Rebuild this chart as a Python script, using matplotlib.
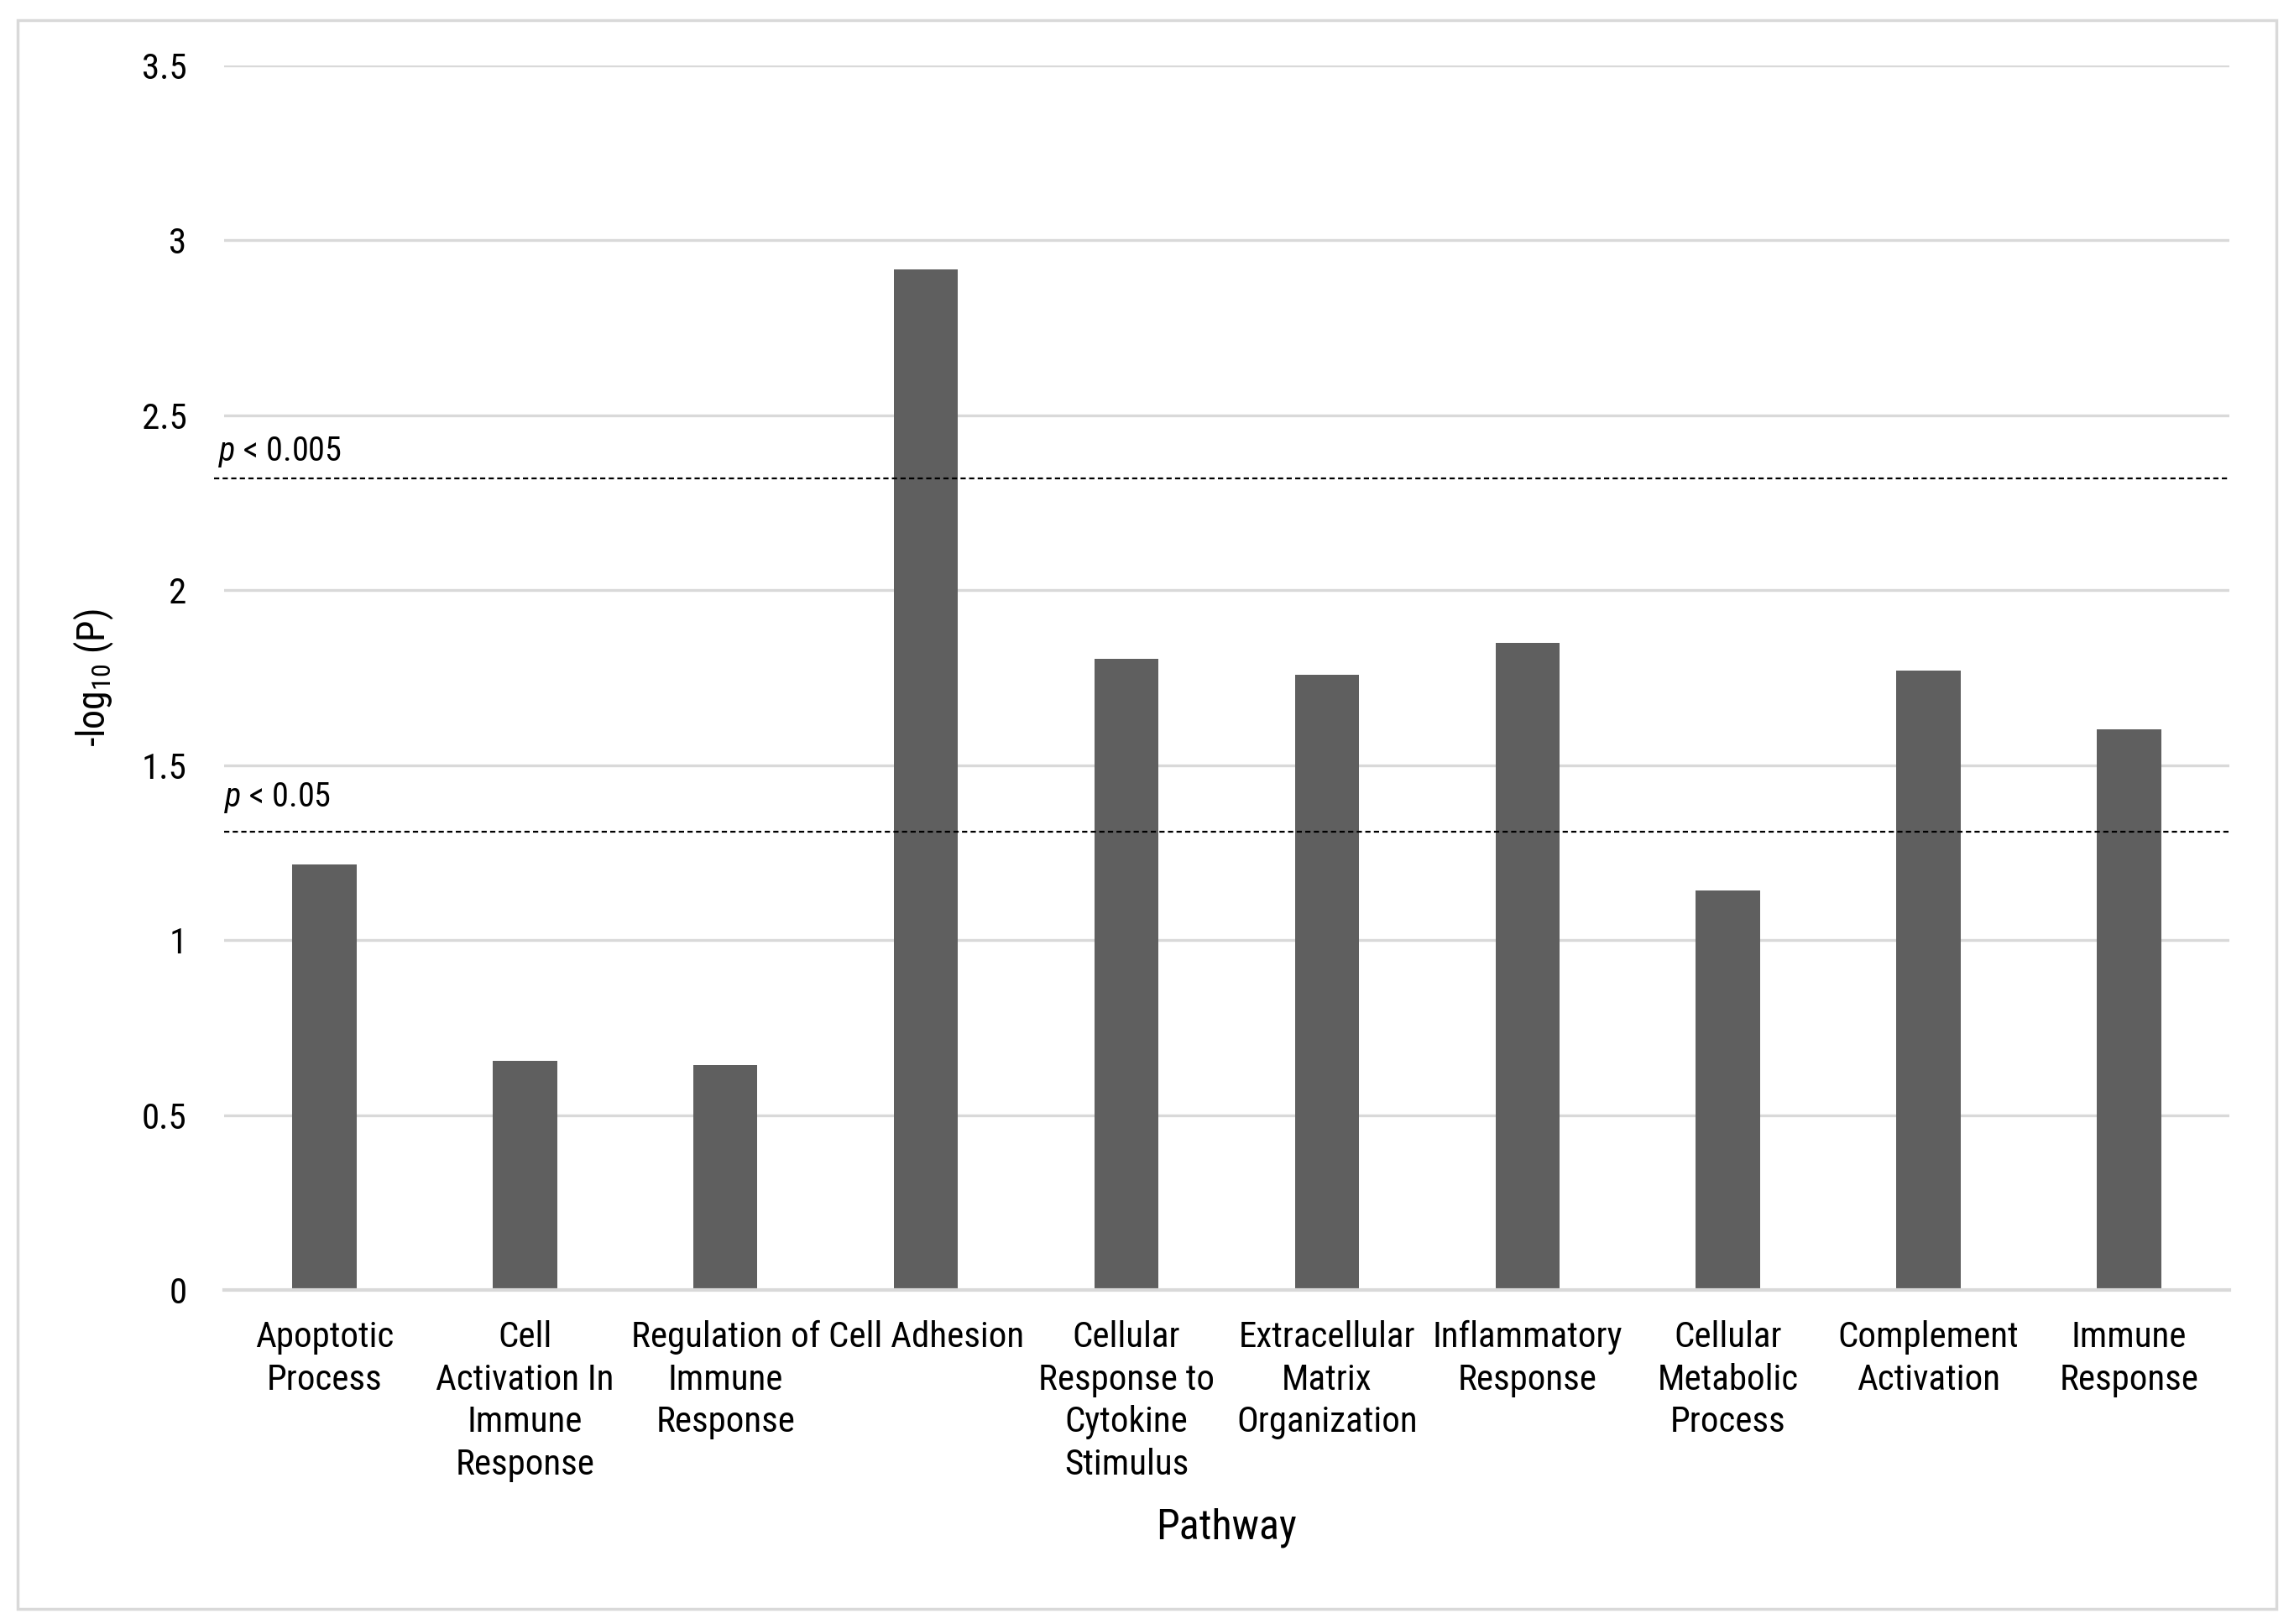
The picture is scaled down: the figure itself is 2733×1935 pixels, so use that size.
import matplotlib
matplotlib.use("Agg")
import matplotlib.pyplot as plt
import matplotlib.patches as patches
import matplotlib.transforms as mtransforms
from matplotlib import font_manager

# Dados
pathways = ["Apoptotic\nProcess", "Cell\nActivation In\nImmune\nResponse",
            "Regulation of\nImmune\nResponse", "Cell Adhesion",
            "Cellular\nResponse to\nCytokine\nStimulus",
            "Extracellular\nMatrix\nOrganization", "Inflammatory\nResponse",
            "Cellular\nMetabolic\nProcess", "Complement\nActivation",
            "Immune\nResponse"]
neg_log_p = [1.215, 0.655, 0.643, 2.918, 1.804, 1.759, 1.850, 1.143, 1.770, 1.603]
thresholds = [2.32, 1.31]
threshold_labels = [r"$\mathit{p}$ < 0.005", r"$\mathit{p}$ < 0.05"]
y_ticks = [0, 0.5, 1, 1.5, 2, 2.5, 3, 3.5]
y_tick_labels = ["0", "0.5", "1", "1.5", "2", "2.5", "3", "3.5"]

# Fonte estreita parecida com Calibri
installed = {f.name for f in font_manager.fontManager.ttflist}
font = "Lato"
for name in ["Liberation Sans Narrow", "Roboto Condensed", "Open Sans Condensed", "Lato"]:
    if name in installed:
        font = name
        break
plt.rcParams["font.family"] = [font, "DejaVu Sans"]
plt.rcParams["mathtext.fontset"] = "custom"
plt.rcParams["mathtext.rm"] = font
plt.rcParams["mathtext.it"] = font + ":italic"

fig = plt.figure(figsize=(27.33, 19.35), dpi=100)
ax = fig.add_axes([0.0977, 0.2057, 0.8741, 0.754])

# Borda externa do gráfico
fig.patches.append(patches.Rectangle((0.0077, 0.0093), 0.9846, 0.9783,
                                     transform=fig.transFigure, fill=False,
                                     edgecolor="#d9d9d9", linewidth=2.5))

x = range(len(pathways))
ax.bar(x, neg_log_p, width=0.32, color="#5f5f5f", zorder=3)

ax.set_xlim(-0.5, len(pathways) - 0.5)
ax.set_ylim(0, 3.5)
ax.set_yticks(y_ticks)
ax.set_yticklabels(y_tick_labels)
ax.set_xticks(list(x))
ax.set_xticklabels(pathways, linespacing=1.30)
ax.tick_params(axis="both", length=0, labelsize=31, colors="#000000")
ax.tick_params(axis="x", pad=26)
ax.tick_params(axis="y", pad=32)
ax.grid(axis="y", color="#d9d9d9", linewidth=2.4, zorder=0)
for s in ["top", "right", "left"]:
    ax.spines[s].set_visible(False)
ax.spines["bottom"].set_color("#d9d9d9")
ax.spines["bottom"].set_linewidth(3)
ax.spines["bottom"].set_zorder(4)

# Linhas de significância
trans = mtransforms.blended_transform_factory(ax.transAxes, ax.transData)
starts = [-0.005, 0.0]
label_x = [-0.003, 0.0]
label_dy = [0.075, 0.097]
for t, lab, x0, lx, dy in zip(thresholds, threshold_labels, starts, label_x, label_dy):
    ax.plot([x0, 1.0], [t, t], transform=trans, color="#000000", linewidth=1.6,
            linestyle=(0, (2.8, 1.8)), zorder=5, clip_on=False)
    ax.text(lx, t + dy, lab, transform=trans, fontsize=29, va="center",
            ha="left", color="#000000")

ax.set_ylabel(r"-log$_{10}$ (P)", fontsize=33, labelpad=22)
ax.set_xlabel("Pathway", fontsize=36, labelpad=22)

fig.savefig("out.png", dpi=100)
